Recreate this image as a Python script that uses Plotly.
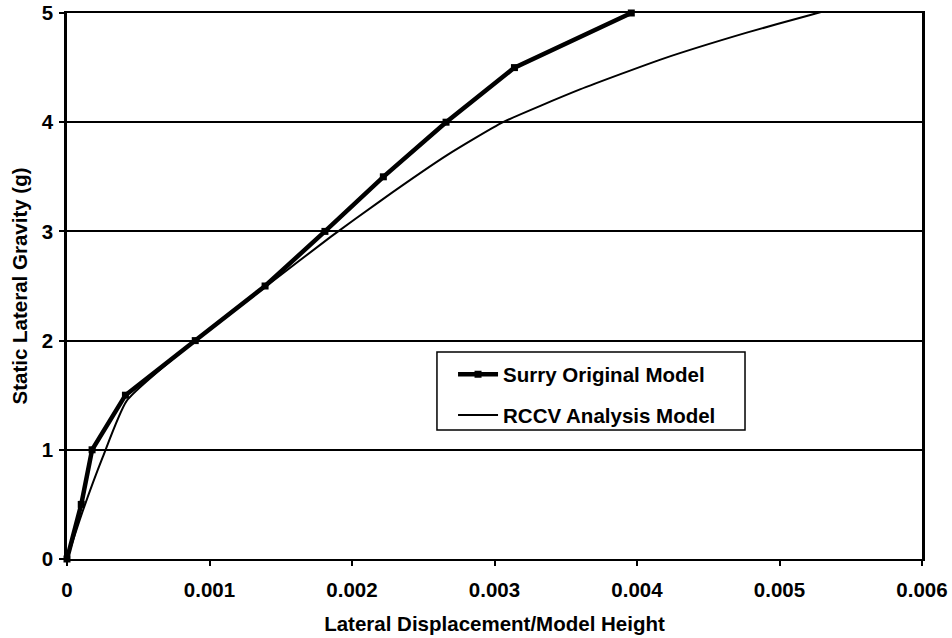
import plotly.graph_objects as go

# Surry Original Model
surry_x = [0, 0.0001, 0.000176, 0.00041, 0.0009, 0.00139, 0.00181, 0.00222, 0.00266, 0.00314, 0.00396]
surry_y = [0, 0.5, 1.0, 1.5, 2.0, 2.5, 3.0, 3.5, 4.0, 4.5, 5.0]

# RCCV Analysis Model
rccv_x = [0, 0.0001, 0.00025, 0.00042, 0.0009, 0.0014, 0.00185, 0.0022, 0.00267, 0.00306, 0.0036, 0.00418, 0.00477, 0.00521, 0.00538]
rccv_y = [0, 0.4, 0.93, 1.45, 2.0, 2.5, 2.95, 3.28, 3.7, 4.0, 4.3, 4.58, 4.82, 4.98, 5.04]

x_ticks = [0, 0.001, 0.002, 0.003, 0.004, 0.005, 0.006]
x_tick_labels = ["0", "0.001", "0.002", "0.003", "0.004", "0.005", "0.006"]
y_ticks = [0, 1, 2, 3, 4, 5]

FONT = "Arial, Liberation Sans, sans-serif"
FS = 20.5
bold = lambda s: "<b>%s</b>" % s

fig = go.Figure()
fig.add_trace(go.Scatter(
    x=surry_x, y=surry_y, mode="lines+markers", name=bold("Surry Original Model"),
    legendgroup="a",
    line=dict(color="black", width=4.5),
    marker=dict(symbol="square", size=7, color="black"),
    cliponaxis=False,
))
fig.add_trace(go.Scatter(
    x=rccv_x, y=rccv_y, mode="lines", name=bold("RCCV Analysis Model"),
    legendgroup="b",
    line=dict(color="black", width=2, shape="spline", smoothing=0.5),
    cliponaxis=False,
))

# legend frame
fig.add_shape(type="rect", xref="paper", yref="paper",
              x0=0.4327, x1=0.7930, y0=0.2363, y1=0.379,
              line=dict(color="black", width=1.5), fillcolor="white", layer="above")

fig.update_layout(
    width=952, height=638,
    margin=dict(l=67, r=30, t=13, b=79, autoexpand=False),
    paper_bgcolor="white", plot_bgcolor="white",
    font=dict(family=FONT, color="black", size=FS, weight="bold"),
    showlegend=True,
    legend=dict(
        x=0.4515, y=0.3745, xanchor="left", yanchor="top",
        borderwidth=0, bgcolor="rgba(0,0,0,0)",
        font=dict(family=FONT, size=FS, color="black", weight="bold"),
        tracegroupgap=11, itemwidth=40,
    ),
    xaxis=dict(
        range=[0, 0.006], tickvals=x_ticks, ticktext=[bold(t) for t in x_tick_labels],
        showgrid=False, zeroline=False, automargin=False,
        showline=True, linecolor="black", linewidth=2, mirror=True,
        ticks="outside", ticklen=5, tickcolor="black", tickwidth=1.5,
        ticklabelstandoff=6,
        tickfont=dict(family=FONT, size=FS, color="black", weight="bold"),
        title=dict(text=bold("Lateral Displacement/Model Height"),
                   font=dict(family=FONT, size=FS, weight="bold"), standoff=17),
    ),
    yaxis=dict(
        range=[0, 5], tickvals=y_ticks, ticktext=[bold(t) for t in y_ticks],
        showgrid=True, gridcolor="black", gridwidth=1.5, zeroline=False, automargin=False,
        showline=True, linecolor="black", linewidth=2.5, mirror=True,
        ticks="outside", ticklen=5, tickcolor="black", tickwidth=1.5,
        ticklabelstandoff=2,
        tickfont=dict(family=FONT, size=FS, color="black", weight="bold"),
        title=dict(text=bold("Static Lateral Gravity (g)"),
                   font=dict(family=FONT, size=FS, weight="bold"), standoff=9),
    ),
)

fig.write_html("out.html")
